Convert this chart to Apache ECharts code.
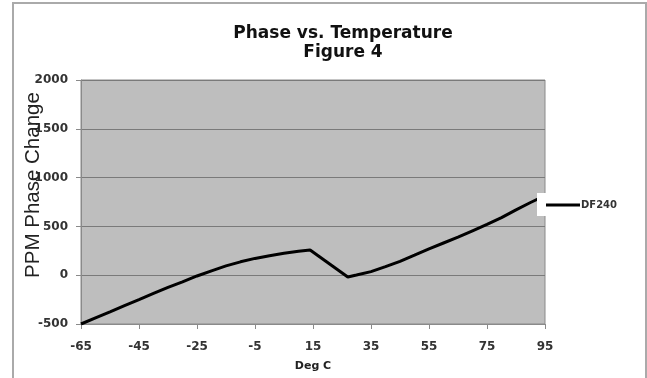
<!DOCTYPE html>
<html>
<head>
<meta charset="utf-8">
<script src="https://cdn.jsdelivr.net/npm/echarts@6/dist/echarts.min.js"></script>
<style>
html,body{margin:0;padding:0;background:#fff;}
#c{width:647px;height:378px;}
</style>
</head>
<body>
<div id="c"></div>
<script>
// Temperature (Deg C) and phase change (PPM)
const temps = [-65,-60,-55,-50,-45,-40,-35,-30,-25,-20,-15,-10,-5,0,5,10,14,27,30,35,40,45,50,55,60,65,70,75,80,85,90,95];
const ppm   = [-500,-437,-375,-312,-250,-187,-125,-68,-8,45,95,137,172,200,225,245,258,-18,2,37,88,142,205,270,330,390,455,520,590,670,745,815];
const xTicks = [-65,-45,-25,-5,15,35,55,75,95];
const yTicks = [-500,0,500,1000,1500,2000];
const seriesName = 'DF240';

const chart = echarts.init(document.getElementById('c'), null, {renderer:'canvas'});
const tickFont = {fontFamily:'DejaVu Sans', fontSize:12, fontWeight:'bold', color:'#333'};
chart.setOption({
  animation:false,
  backgroundColor:'#fff',
  title:{
    text:'Phase vs. Temperature\nFigure 4',
    left:338, top:19, textAlign:'center',
    textStyle:{fontFamily:'DejaVu Sans', fontSize:17, fontWeight:'bold', color:'#111', lineHeight:19}
  },
  graphic:[
    {type:'rect', shape:{x:13,y:3,width:633,height:380}, style:{fill:'none', stroke:'#aaa', lineWidth:2}, z:-1},
    {type:'text', x:33, y:185, rotation:Math.PI/2,
     style:{text:'PPM Phase Change', fontFamily:'Liberation Sans', fontSize:20.5, fill:'#222', align:'center', verticalAlign:'middle'}, z:10}
  ],
  legend:{
    data:[seriesName], left:537, top:193, orient:'vertical',
    backgroundColor:'#fff', padding:[7,6,6,9],
    icon:'rect', itemWidth:34, itemHeight:3, itemGap:4,
    textStyle:{fontFamily:'DejaVu Sans', fontSize:10, fontWeight:'bold', color:'#333', padding:[0,0,0,-4]}
  },
  grid:{left:81, right:102, top:80, bottom:54, show:true, backgroundColor:'#bebebe', borderColor:'#8a8a8a', borderWidth:1},
  xAxis:{
    type:'value', min:-65, max:95,
    name:'Deg C', nameLocation:'middle', nameGap:37,
    nameTextStyle:{fontFamily:'DejaVu Sans', fontSize:11, fontWeight:'bold', color:'#222'},
    axisLine:{show:true, onZero:false, lineStyle:{color:'#8a8a8a'}},
    axisTick:{show:true, customValues:xTicks, length:5, lineStyle:{color:'#8a8a8a'}},
    axisLabel:Object.assign({customValues:xTicks, margin:17}, tickFont),
    splitLine:{show:false}
  },
  yAxis:{
    type:'value', min:-500, max:2000, interval:500,
    axisLine:{show:true, onZero:false, lineStyle:{color:'#8a8a8a'}},
    axisTick:{show:true, length:5, lineStyle:{color:'#8a8a8a'}},
    axisLabel:Object.assign({margin:13, formatter:v=>String(v)}, tickFont),
    splitLine:{show:true, lineStyle:{color:'#7a7a7a', width:1}}
  },
  series:[{
    name:seriesName, type:'line', showSymbol:false, symbol:'none',
    data:temps.map((t,i)=>[t,ppm[i]]),
    lineStyle:{color:'#000', width:3}, itemStyle:{color:'#000'}
  }]
});
</script>
</body>
</html>
